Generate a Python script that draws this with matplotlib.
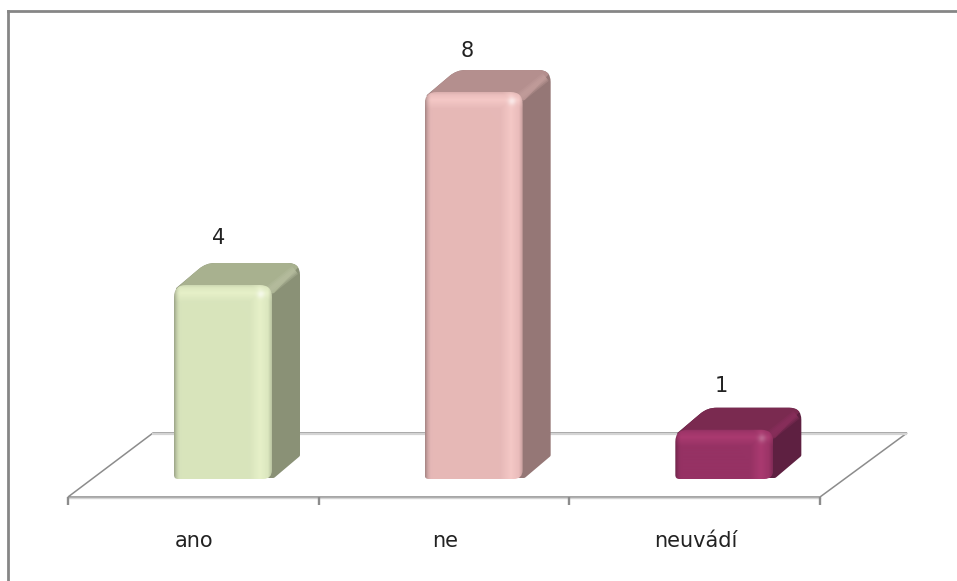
import numpy as np
import matplotlib
matplotlib.use("Agg")
import matplotlib.pyplot as plt
from matplotlib.lines import Line2D
from matplotlib.patches import PathPatch, Polygon
from matplotlib.path import Path
from matplotlib.colors import to_rgb

categories = ["ano", "ne", "neuvádí"]
values = [4, 8, 1]
front_colors = ["#d8e4bc", "#e6b8b7", "#963264"]
light_colors = ["#e6f0c8", "#f4c8c6", "#aa3a70"]
top_colors = ["#a8b18f", "#b48f8e", "#7a2a50"]
ridge_colors = ["#b6bd9f", "#c29d9b", "#8a2f5c"]
side_colors = ["#8a9176", "#957776", "#5e2041"]
glow_amount = [0.6, 0.6, 0.22]
label_gap = [47, 41, 44]
label_shift = [45, 43, 46]

W, H = 957, 581
GRID = "#8c8c8c"

# plot area: x 0..3 is 68..820 px, value 0 is at 478 px and one unit is 48.25 px
fig = plt.figure(figsize=(W / 100, H / 100), dpi=100)
fig.patch.set_facecolor("white")
PX_X = 3 / 752.0
PX_Y = 1 / 48.25
ax = fig.add_axes([68 / W, (H - 497) / H, 752 / W, 485 / H])
ax.axis("off")
xlim = (0, 3)
ylim = (-19 * PX_Y, 466 * PX_Y)


def rounded_path(pts, radii):
    # closed polygon in pixel offsets with the given corners rounded
    verts, codes = [], []
    n = len(pts)
    for i in range(n):
        p = np.array(pts[i], float)
        a = np.array(pts[i - 1], float)
        b = np.array(pts[(i + 1) % n], float)
        r = radii[i]
        p1 = p + (a - p) / np.linalg.norm(a - p) * r
        p2 = p + (b - p) / np.linalg.norm(b - p) * r
        verts.append(p1)
        codes.append(Path.MOVETO if i == 0 else Path.LINETO)
        verts += [p, p2]
        codes += [Path.CURVE3, Path.CURVE3]
    verts.append(verts[0])
    codes.append(Path.CLOSEPOLY)
    return np.array(verts), codes


def front_shading(w, h, base, light, glow_a):
    # front of a bar: dark left rim, light band on the right and along the top
    nx, ny = int(w) * 2, max(int(h) * 2, 2)
    xs = (np.arange(nx) + 0.5) / 2
    ys = (np.arange(ny) + 0.5) / 2
    X, Y = np.meshgrid(xs, ys)
    base = np.array(to_rgb(base))
    light = np.array(to_rgb(light))
    img = np.ones((ny, nx, 3)) * base

    band = np.clip(1 - np.abs(X - (w - 12)) / 11, 0, 1)
    top = np.clip(1 - np.abs(Y - 8) / 9, 0, 1)
    mix = np.maximum(band, top)[..., None]
    img = img * (1 - mix) + light * mix

    edge = np.clip(1 - X / 7, 0, 1) ** 2 * 0.3 + np.clip(1 - (w - X) / 4, 0, 1) * 0.15
    edge = edge + np.clip(1 - Y / 3, 0, 1) * 0.06
    img = img * (1 - edge[..., None])

    glow = np.exp(-((X - (w - 11)) ** 2 + (Y - 9) ** 2) / 16.0)[..., None] * glow_a
    img = img * (1 - glow) + glow
    return np.clip(img, 0, 1)


bar_left = 106 / 752.0 * 3
bar_px = 98
depth_x, depth_y = 28, 22

# floor of the chart
floor = [(0, -19), (752, -19), (839, 45), (85, 45)]
ax.add_patch(Polygon([(x * PX_X, y * PX_Y) for x, y in floor], closed=True,
                     facecolor="white", edgecolor=GRID, lw=1.1, clip_on=False, zorder=1))
ax.plot([85 * PX_X, 838 * PX_X], [44.5 * PX_Y, 44.5 * PX_Y], color="#d4d4d4", lw=1.6,
        clip_on=False, zorder=1)
ax.plot([0, 752 * PX_X], [-20 * PX_Y, -20 * PX_Y], color="#d4d4d4", lw=1.0,
        clip_on=False, zorder=1)
for i in range(len(categories) + 1):
    ax.plot([i, i], [-19 * PX_Y, -27 * PX_Y], color=GRID, lw=1.7,
            clip_on=False, zorder=1, solid_capstyle="butt")

for i, (name, val) in enumerate(zip(categories, values)):
    x0 = i + bar_left
    w = bar_px * PX_X
    x1 = x0 + w
    dx, dy = depth_x * PX_X, depth_y * PX_Y
    h_px = val / PX_Y

    # side and top faces together, the side reaches behind the front
    pts = [(bar_px - 20, 0), (bar_px + 2, 0), (bar_px + depth_x, depth_y),
           (bar_px + depth_x, h_px + depth_y), (depth_x + 4, h_px + depth_y),
           (1, h_px - 4), (bar_px - 20, h_px - 20)]
    body, codes = rounded_path(pts, [1, 1, 1, 12, 9, 2, 1])
    body = body * [PX_X, PX_Y] + [x0, 0]
    silhouette = PathPatch(Path(body, codes), facecolor=side_colors[i], edgecolor="none", zorder=3)
    ax.add_patch(silhouette)

    # top face
    top_pts = np.array([(-2, h_px - 8), (depth_x + 4, h_px + depth_y + 2),
                        (bar_px + depth_x + 4, h_px + depth_y + 2), (bar_px + 2, h_px - 8)])
    top_face = Polygon(top_pts * [PX_X, PX_Y] + [x0, 0], closed=True,
                       facecolor=top_colors[i], edgecolor="none", zorder=4)
    ax.add_patch(top_face)
    top_face.set_clip_path(silhouette)

    # soft ridge between the top and side faces
    for lw, alpha in ((10, 0.35), (7, 0.45), (4, 0.55)):
        ridge, = ax.plot([x1 - 6 * PX_X, x1 + dx - 5 * PX_X], [val - 8 * PX_Y, val + dy - 7 * PX_Y],
                         color=ridge_colors[i], lw=lw * 0.72, alpha=alpha, zorder=5,
                         solid_capstyle="butt")
        ridge.set_clip_path(silhouette)

    # front face, clipped to its rounded outline
    pts = [(0, -1), (bar_px, -1), (bar_px, h_px), (0, h_px)]
    outline, codes = rounded_path(pts, [4, 9, 12, 12])
    outline = outline * [PX_X, PX_Y] + [x0, 0]
    clip = PathPatch(Path(outline, codes), facecolor="none", edgecolor="none", zorder=6)
    ax.add_patch(clip)
    img = ax.imshow(front_shading(bar_px, h_px + 1, front_colors[i], light_colors[i], glow_amount[i]),
                    extent=(x0, x1, -PX_Y, val), aspect="auto", zorder=6,
                    interpolation="bilinear", origin="upper")
    img.set_clip_path(clip)

    # value above the bar, category under the floor
    ax.text(x0 + label_shift[i] * PX_X, val + label_gap[i] * PX_Y, str(val), ha="center", va="center",
            fontsize=15, color="#222222", zorder=7)
    ax.text(i + 0.5 + 1 * PX_X, -63 * PX_Y, name, ha="center", va="center", fontsize=15,
            color="#222222", zorder=7)

ax.set_xlim(*xlim)
ax.set_ylim(*ylim)

# only the left and top edges of the frame are inside the image
fig.add_artist(Line2D([8 / W, 8 / W], [0, (H - 11) / H], transform=fig.transFigure,
                      color="#868686", lw=2.0, solid_capstyle="projecting"))
fig.add_artist(Line2D([8 / W, 1], [(H - 11) / H, (H - 11) / H], transform=fig.transFigure,
                      color="#868686", lw=2.0, solid_capstyle="projecting"))

fig.savefig("out.png", dpi=100)
